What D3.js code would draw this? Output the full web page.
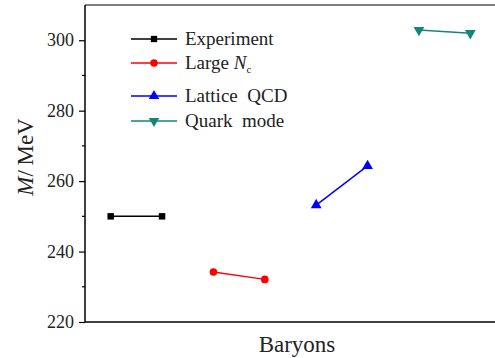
<!DOCTYPE html>
<html>
<head>
<meta charset="utf-8">
<script src="https://cdn.jsdelivr.net/npm/d3@7"></script>
<style>
  body { margin: 0; background: #fff; }
</style>
</head>
<body>
<div class="chart"></div>
<script>
var width = 495, height = 358;
var serif = '"Liberation Serif", "Times New Roman", serif';

// data
var seriesNames = ["Experiment", "Large Nc", "Lattice QCD", "Quark mode"];
var seriesColors = ["#000000", "#ff0000", "#0000ff", "#13857b"];
var seriesShapes = ["square", "circle", "triangle", "down"];
var xPositions = [[1, 2], [3, 4], [5, 6], [7, 8]];
var massValues = [[250, 250], [234.2, 232.1], [253.2, 264.3], [302.9, 302]];
var yTicks = [220, 240, 260, 280, 300];
var yMinorTicks = [230, 250, 270, 290];

var margin = { left: 85, top: 5, right: -1, bottom: 36 };

var svg = d3.select('.chart')
	.append('svg')
	.attr('width', width)
	.attr('height', height);

var x = d3.scaleLinear().domain([0.5, 8.5]).range([margin.left, width - margin.right]);
var y = d3.scaleLinear().domain([220, 310]).range([height - margin.bottom, margin.top]);

// top frame line
svg.append('line')
	.attr('x1', margin.left).attr('x2', width)
	.attr('y1', margin.top).attr('y2', margin.top)
	.attr('stroke', '#555').attr('stroke-width', 1.5);

var yAxis = svg.append('g')
	.attr('transform', 'translate(' + margin.left + ',0)')
	.call(d3.axisLeft(y).tickValues(yTicks).tickSize(6).tickPadding(5).tickSizeOuter(0));
yAxis.attr('font-family', serif);
yAxis.select('.domain').remove();
yAxis.selectAll('text').attr('font-size', 18).attr('fill', '#222');
yAxis.selectAll('line').attr('stroke', '#000').attr('stroke-width', 1.2);

svg.append('g')
	.selectAll('line')
	.data(yMinorTicks)
	.enter().append('line')
	.attr('x1', margin.left - 3).attr('x2', margin.left)
	.attr('y1', function(d) { return y(d); })
	.attr('y2', function(d) { return y(d); })
	.attr('stroke', '#000').attr('stroke-width', 1.2);

// axis lines
svg.append('line')
	.attr('x1', margin.left).attr('x2', margin.left)
	.attr('y1', margin.top).attr('y2', y(220))
	.attr('stroke', '#000').attr('stroke-width', 1.5);
svg.append('line')
	.attr('x1', margin.left).attr('x2', width)
	.attr('y1', y(220)).attr('y2', y(220))
	.attr('stroke', '#000').attr('stroke-width', 1.5);

function symbolFor(shape, size) {
	if (shape == 'square') return d3.symbol().type(d3.symbolSquare).size(size)();
	if (shape == 'circle') return d3.symbol().type(d3.symbolCircle).size(size * 1.1)();
	return d3.symbol().type(d3.symbolTriangle).size(size * 1.2)();
}

var series = seriesNames.map(function(name, i) {
	return {
		name: name, color: seriesColors[i], shape: seriesShapes[i],
		points: xPositions[i].map(function(px, j) { return { x: px, y: massValues[i][j] }; })
	};
});

var line = d3.line()
	.x(function(d) { return x(d.x); })
	.y(function(d) { return y(d.y); });

var groups = svg.append('g')
	.selectAll('.series')
	.data(series)
	.enter().append('g')
	.attr('class', 'series');

groups.append('path')
	.attr('d', function(d) { return line(d.points); })
	.attr('stroke', function(d) { return d.color; })
	.attr('stroke-width', 1.5)
	.attr('fill', 'none');

groups.selectAll('.pt')
	.data(function(d) { return d.points.map(function(p) { return { p: p, s: d }; }); })
	.enter().append('path')
	.attr('class', 'pt')
	.attr('d', function(d) { return symbolFor(d.s.shape, 42); })
	.attr('transform', function(d) {
		return 'translate(' + x(d.p.x) + ',' + y(d.p.y) + ')' + (d.s.shape == 'down' ? ' rotate(180)' : '');
	})
	.attr('fill', function(d) { return d.s.color; });

// legend
var legendY = [39, 63, 96, 121];
var legend = svg.append('g')
	.selectAll('.legend')
	.data(series)
	.enter().append('g')
	.attr('transform', function(d, i) { return 'translate(131,' + legendY[i] + ')'; });

legend.append('line')
	.attr('x1', 0).attr('x2', 46)
	.attr('stroke', function(d) { return d.color; })
	.attr('stroke-width', 1.5);
legend.append('path')
	.attr('d', function(d) { return symbolFor(d.shape, 40); })
	.attr('transform', function(d) { return 'translate(23,0)' + (d.shape == 'down' ? ' rotate(180)' : ''); })
	.attr('fill', function(d) { return d.color; });

legend.each(function(d) {
	var t = d3.select(this).append('text')
		.attr('x', 54).attr('y', 6)
		.attr('font-family', serif)
		.attr('font-size', 19).attr('fill', '#222');
	if (d.name == 'Large Nc') {
		t.append('tspan').text('Large ');
		t.append('tspan').attr('font-style', 'italic').text('N');
		t.append('tspan').attr('font-size', 11).attr('dy', 4).text('c');
	} else {
		t.text(d.name.replace(' ', '\u00a0 '));
	}
});

// axis titles
var yt = svg.append('text')
	.attr('transform', 'translate(33,157) rotate(-90)')
	.attr('text-anchor', 'middle')
	.attr('font-family', serif)
	.attr('font-size', 23).attr('fill', '#222');
yt.append('tspan').attr('font-style', 'italic').text('M');
yt.append('tspan').text('/\u2009MeV');

svg.append('text')
	.attr('x', 297).attr('y', 352)
	.attr('text-anchor', 'middle')
	.attr('font-family', serif)
	.attr('font-size', 23).attr('fill', '#222')
	.text('Baryons');
</script>
</body>
</html>
